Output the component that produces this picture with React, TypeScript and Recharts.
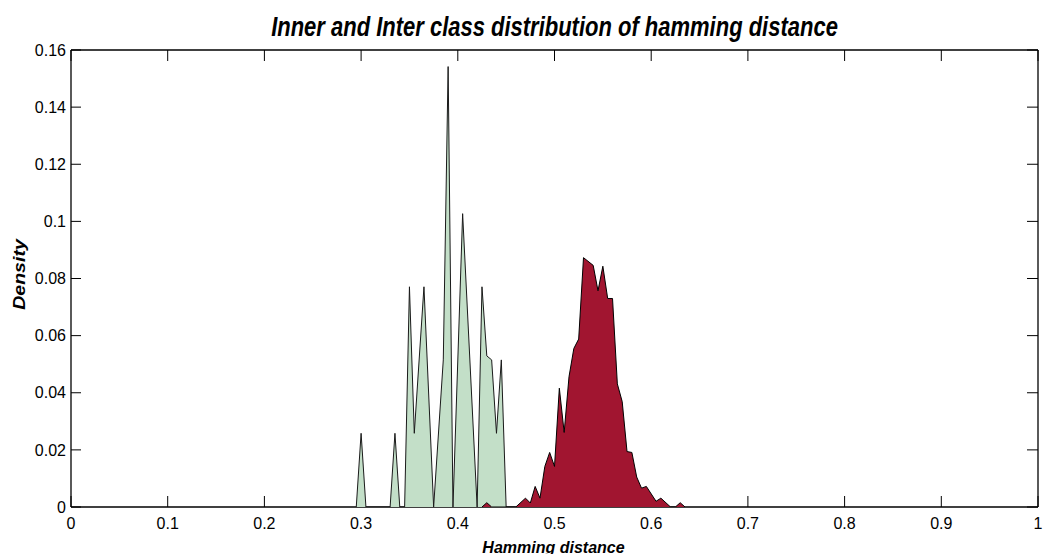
import React from 'react';
import { ComposedChart, Area, XAxis, YAxis, Label } from 'recharts';

const TITLE = 'Inner and Inter class distribution of hamming distance';
const X_LABEL = 'Hamming distance';
const Y_LABEL = 'Density';

const xTicks = [0, 0.1, 0.2, 0.3, 0.4, 0.5, 0.6, 0.7, 0.8, 0.9, 1];
const xTickLabels = ['0', '0.1', '0.2', '0.3', '0.4', '0.5', '0.6', '0.7', '0.8', '0.9', '1'];
const yTicks = [0, 0.02, 0.04, 0.06, 0.08, 0.1, 0.12, 0.14, 0.16];
const yTickLabels = ['0', '0.02', '0.04', '0.06', '0.08', '0.1', '0.12', '0.14', '0.16'];

// Inner class (same subject) distribution
const innerX = [0.295, 0.3, 0.305, 0.33, 0.335, 0.34, 0.345, 0.35, 0.355, 0.365, 0.375, 0.385, 0.39, 0.395, 0.405, 0.42, 0.425, 0.43, 0.435, 0.44, 0.445, 0.45];
const innerY = [0, 0.0258, 0, 0, 0.0258, 0, 0, 0.0771, 0.0258, 0.0771, 0, 0.0515, 0.1542, 0, 0.1027, 0, 0.0771, 0.0529, 0.0515, 0.0258, 0.0515, 0];

// Inter class (different subjects) distribution
const interX = [0.425, 0.43, 0.435, 0.46, 0.47, 0.475, 0.48, 0.485, 0.49, 0.495, 0.5, 0.505, 0.51, 0.515, 0.52, 0.525, 0.53, 0.54, 0.545, 0.55, 0.555, 0.56, 0.565, 0.57, 0.575, 0.58, 0.585, 0.59, 0.595, 0.605, 0.61, 0.62, 0.625, 0.63, 0.635];
const interY = [0, 0.0015, 0, 0, 0.0031, 0.0014, 0.0072, 0.0031, 0.0142, 0.0191, 0.0142, 0.0416, 0.0261, 0.0456, 0.0555, 0.0588, 0.0873, 0.0846, 0.0757, 0.0843, 0.073, 0.073, 0.0431, 0.0369, 0.0194, 0.0191, 0.0105, 0.0066, 0.0072, 0.002, 0.0031, 0, 0, 0.0015, 0];

const innerData = innerX.map((x, i) => ({ x, density: innerY[i] }));
const interData = interX.map((x, i) => ({ x, density: interY[i] }));

const FONT = "'Liberation Sans', Arial, Helvetica, sans-serif";

const labelFor = (ticks: number[], labels: string[], v: number) => {
  const i = ticks.findIndex((t) => Math.abs(t - v) < 1e-9);
  return i >= 0 ? labels[i] : String(v);
};

const TitleContent = (props: any) => {
  const vb = props.viewBox || { x: 0, y: 49, width: 71, height: 458 };
  const cx = 554.5;
  const by = vb.y - 14;
  return (
    <text
      transform={`translate(${cx},${by}) scale(1,1.27)`}
      x={0}
      y={0}
      textAnchor="middle"
      fontFamily={FONT}
      fontSize={22}
      fontWeight="bold"
      fontStyle="italic"
      fill="#000"
    >
      {TITLE}
    </text>
  );
};

const XLabelContent = (props: any) => {
  const vb = props.viewBox || { x: 71, y: 507, width: 967, height: 47 };
  const cx = vb.x + vb.width / 2 - 1;
  return (
    <text
      x={cx}
      y={vb.y + 45.5}
      textAnchor="middle"
      fontFamily={FONT}
      fontSize={16}
      fontWeight="bold"
      fontStyle="italic"
      fill="#000"
    >
      {X_LABEL}
    </text>
  );
};

const YLabelContent = (props: any) => {
  const vb = props.viewBox || { x: 0, y: 49, width: 71, height: 458 };
  const cy = vb.y + vb.height / 2 - 4;
  return (
    <text
      transform={`translate(25,${cy}) rotate(-90) scale(1.15,1)`}
      x={0}
      y={0}
      textAnchor="middle"
      fontFamily={FONT}
      fontSize={17}
      fontWeight="bold"
      fontStyle="italic"
      fill="#000"
    >
      {Y_LABEL}
    </text>
  );
};

const axisLine = { stroke: '#000', strokeWidth: 1.3 };
const tickLine = { stroke: '#000', strokeWidth: 1 };
const tickFont = { fontFamily: FONT, fontSize: 16, fill: '#000' };

export default function App() {
  return (
    <div style={{ position: 'absolute', left: 0, top: 0, width: 1049, height: 554, background: '#fff' }}>
      <ComposedChart
        width={1049}
        height={554}
        margin={{ top: 49, right: 10, bottom: 0, left: 0 }}
      >
        <XAxis
          xAxisId={0}
          dataKey="x"
          type="number"
          domain={[0, 1]}
          ticks={xTicks}
          interval={0}
          orientation="bottom"
          height={47}
          tickSize={-11}
          tickMargin={22}
          tickLine={tickLine}
          axisLine={axisLine}
          tick={tickFont}
          tickFormatter={(v: number) => labelFor(xTicks, xTickLabels, v)}
          allowDataOverflow
        >
          <Label content={<XLabelContent />} />
        </XAxis>
        <XAxis
          xAxisId="top"
          dataKey="x"
          type="number"
          domain={[0, 1]}
          ticks={xTicks}
          interval={0}
          orientation="top"
          height={1}
          tickSize={-11}
          tickMargin={0}
          tickLine={tickLine}
          axisLine={axisLine}
          tick={tickFont}
          tickFormatter={() => ''}
          allowDataOverflow
        />
        <YAxis
          yAxisId={0}
          type="number"
          domain={[0, 0.16]}
          ticks={yTicks}
          interval={0}
          width={71}
          tickSize={-10}
          tickMargin={15}
          tickLine={tickLine}
          axisLine={axisLine}
          tick={tickFont}
          tickFormatter={(v: number) => labelFor(yTicks, yTickLabels, v)}
          allowDataOverflow
        >
          <Label content={<YLabelContent />} />
          <Label content={<TitleContent />} />
        </YAxis>
        <YAxis
          yAxisId="right"
          orientation="right"
          type="number"
          domain={[0, 0.16]}
          ticks={yTicks}
          interval={0}
          width={1}
          tickSize={-11}
          tickMargin={0}
          tickLine={tickLine}
          axisLine={axisLine}
          tick={tickFont}
          tickFormatter={() => ''}
          allowDataOverflow
        />
        <Area
          data={innerData}
          dataKey="density"
          xAxisId={0}
          yAxisId={0}
          type="linear"
          fill="#c3dfc8"
          fillOpacity={1}
          stroke="#1a1a1a"
          strokeWidth={1}
          dot={false}
          activeDot={false}
          isAnimationActive={false}
          {...({ zIndex: 650 } as any)}
        />
        <Area
          data={interData}
          dataKey="density"
          xAxisId={0}
          yAxisId={0}
          type="linear"
          fill="#a11530"
          fillOpacity={1}
          stroke="#000"
          strokeWidth={1}
          dot={false}
          activeDot={false}
          isAnimationActive={false}
          {...({ zIndex: 660 } as any)}
        />
      </ComposedChart>
    </div>
  );
}
